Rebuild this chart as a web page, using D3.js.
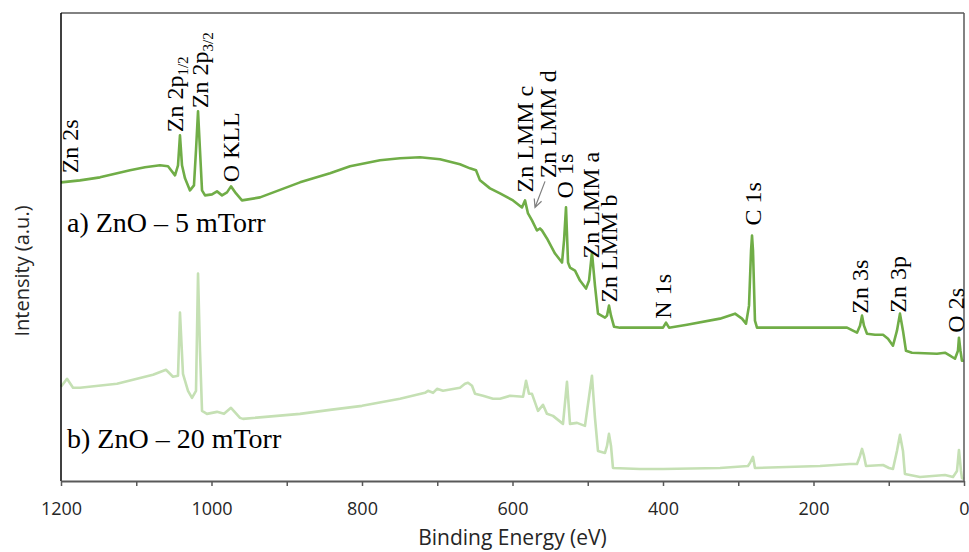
<!DOCTYPE html>
<html>
<head>
<meta charset="utf-8">
<script src="https://cdn.jsdelivr.net/npm/d3@7"></script>
<style>
  body { margin: 0; background: #ffffff; }
  svg { display: block; }
</style>
</head>
<body>
<svg id="chart" width="969" height="552"></svg>
<script>
// Binding energy axis (eV), drawn high to low as usual for XPS
const energyDomain = [1200, 0];
const majorTicks = [1200, 1000, 800, 600, 400, 200, 0];
const minorTicks = [1100, 900, 700, 500, 300, 100];
const intensityDomain = [0, 467];

// Survey spectrum, ZnO deposited at 5 mTorr: [binding energy eV, intensity a.u.]
const spectrum5mTorr = [
  [1200, 298], [1174.8, 300], [1148.2, 303], [1108.3, 310], [1088.4, 313],
  [1068.4, 315], [1057.8, 314], [1048.5, 305], [1044.5, 315], [1041.9, 345],
  [1039.2, 315], [1035.2, 302], [1028.6, 290], [1023.3, 295], [1020.6, 330],
  [1017.9, 369], [1015.3, 330], [1012.6, 290], [1008.6, 285], [999.3, 286],
  [992.7, 289], [986.0, 285], [979.4, 288], [974.1, 294], [967.4, 287],
  [959.5, 280], [935.5, 283], [882.4, 298], [842.5, 307], [815.9, 314],
  [776.1, 320], [749.5, 322], [722.9, 323], [696.3, 321], [669.8, 316],
  [656.5, 312], [648.5, 310], [643.2, 300], [629.9, 292], [616.6, 287],
  [599.3, 280], [587.4, 273], [583.4, 280], [579.4, 267], [574.1, 260],
  [567.5, 250], [563.5, 252], [560.8, 250], [554.2, 242], [543.5, 227],
  [534.2, 218], [531.5, 240], [528.9, 273], [526.2, 218], [523.6, 213],
  [516.9, 210], [510.3, 200], [502.3, 192], [498.3, 200], [494.4, 228],
  [490.4, 195], [486.4, 167], [477.1, 163], [474.4, 165], [471.8, 175],
  [469.1, 165], [465.1, 154], [457.1, 153], [400.0, 153], [396.0, 158],
  [392.0, 153], [368.1, 156], [324.3, 162], [304.3, 167], [295.0, 162],
  [289.7, 157], [285.7, 175], [283.0, 230], [281.7, 245], [280.4, 230],
  [277.8, 160], [275.1, 153], [191.4, 153], [155.5, 153], [142.2, 148],
  [138.2, 155], [135.5, 165], [132.9, 155], [128.9, 147], [118.3, 146],
  [107.6, 146], [101.0, 142], [94.4, 135], [89.1, 150], [85.1, 167],
  [81.1, 150], [77.1, 130], [69.1, 128], [35.9, 127], [25.3, 128],
  [18.6, 125], [12.0, 122], [8.0, 130], [6.7, 143], [4.7, 130],
  [2.7, 120], [0, 120]
];

// Survey spectrum, ZnO deposited at 20 mTorr: [binding energy eV, intensity a.u.]
const spectrum20mTorr = [
  [1200, 94], [1192, 102], [1184, 93], [1174.8, 93], [1125.6, 97],
  [1077.7, 106], [1060.5, 111], [1051.2, 104], [1044.5, 105], [1041.9, 168],
  [1037.9, 107], [1031.2, 90], [1025.9, 83], [1020.6, 90], [1017.9, 207],
  [1015.3, 130], [1012.6, 70], [1006.0, 67], [992.7, 69], [983.4, 67],
  [974.1, 73], [962.1, 63], [958.1, 62], [882.4, 67], [842.5, 71],
  [800, 75], [749.5, 82], [716.3, 88], [712.3, 90], [705.6, 88],
  [700.3, 92], [692.4, 90], [669.8, 93], [663.1, 97], [659.1, 98],
  [653.8, 95], [649.8, 87], [639.2, 85], [625.9, 82], [616.6, 82],
  [603.3, 85], [586.0, 84], [582.0, 100], [578.1, 87], [574.1, 87],
  [566.1, 70], [559.5, 76], [554.2, 67], [546.2, 65], [532.9, 57],
  [527.6, 99], [523.6, 57], [514.3, 58], [503.7, 55], [494.4, 105],
  [490.4, 63], [486.4, 30], [477.1, 28], [474.4, 35], [471.8, 47],
  [469.1, 35], [466.5, 13], [430.6, 12], [400, 12], [324.3, 13],
  [287.1, 15], [284.4, 18], [280.4, 24], [277.8, 13], [191.4, 15],
  [151.5, 17], [142.2, 17], [138.2, 25], [135.5, 32], [132.9, 25],
  [130.2, 15], [107.6, 16], [99.7, 13], [94.4, 12], [89.1, 30],
  [85.1, 46], [81.1, 30], [78.5, 7], [58.5, 4], [25.3, 6],
  [14.6, 4], [9.3, 10], [6.7, 31], [4.0, 10], [2.7, 3], [0, 2]
];

// Peak assignments: label text, subscript, and the [energy, intensity] at the foot of the label
const peakLabels = [
  { text: "Zn 2s", sub: "", at: [1177, 307] },
  { text: "Zn 2p", sub: "1/2", at: [1038, 348] },
  { text: "Zn 2p", sub: "3/2", at: [1004, 372] },
  { text: "O KLL", sub: "", at: [963.5, 298] },
  { text: "Zn LMM c", sub: "", at: [572.5, 288] },
  { text: "Zn LMM d", sub: "", at: [542.5, 302] },
  { text: "O 1s", sub: "", at: [519.5, 282] },
  { text: "Zn LMM a", sub: "", at: [484.5, 222] },
  { text: "Zn LMM b", sub: "", at: [460.5, 178] },
  { text: "N 1s", sub: "", at: [389, 162] },
  { text: "C 1s", sub: "", at: [269.5, 255] },
  { text: "Zn 3s", sub: "", at: [127.5, 167] },
  { text: "Zn 3p", sub: "", at: [77, 168] },
  { text: "O 2s", sub: "", at: [0.5, 148] }
];

// Pointer from the "Zn LMM d" label down to its peak
const pointerArrow = { from: [556.8, 299], to: [570.1, 273] };

const sampleNames = [
  { text: "a) ZnO \u2013 5 mTorr", at: [1192, 248] },
  { text: "b) ZnO \u2013 20 mTorr", at: [1192, 33] }
];

const seriesColors = ["#70ad47", "#c5e0b4"];

const svg = d3.select("#chart");
const margin = { left: 61, right: 5, top: 13, bottom: 71 };
const W = +svg.attr("width"), H = +svg.attr("height");

const x = d3.scaleLinear().domain(energyDomain).range([margin.left, W - margin.right]);
const y = d3.scaleLinear().domain(intensityDomain).range([H - margin.bottom, margin.top]);

const line = d3.line()
  .x(d => x(d[0]))
  .y(d => y(d[1]));

// Spectra (lighter trace underneath)
[[spectrum20mTorr, seriesColors[1]], [spectrum5mTorr, seriesColors[0]]].forEach(([s, c]) => {
  svg.append("path")
    .datum(s)
    .attr("fill", "none")
    .attr("stroke", c)
    .attr("stroke-width", 2.6)
    .attr("stroke-linejoin", "round")
    .attr("d", line);
});

// Plot frame
const x0 = x(energyDomain[0]), x1 = x(energyDomain[1]);
const yTop = y(intensityDomain[1]), yBot = y(intensityDomain[0]);
svg.append("line").attr("x1", x0).attr("x2", x1).attr("y1", yTop).attr("y2", yTop)
  .attr("stroke", "#595959").attr("stroke-width", 1.5);
svg.append("line").attr("x1", x1).attr("x2", x1).attr("y1", yTop).attr("y2", yBot)
  .attr("stroke", "#595959").attr("stroke-width", 1.5);
svg.append("line").attr("x1", x0).attr("x2", x0).attr("y1", yTop).attr("y2", yBot)
  .attr("stroke", "#000000").attr("stroke-width", 1.5);

// Bottom axis with major labels and unlabeled minor ticks
const xAxis = d3.axisBottom(x)
  .tickValues(majorTicks.concat(minorTicks))
  .tickSize(5)
  .tickSizeOuter(0)
  .tickFormat(d => majorTicks.includes(d) ? d : "");
const gx = svg.append("g")
  .attr("transform", `translate(0,${yBot})`)
  .call(xAxis);
gx.select(".domain").attr("stroke", "#595959").attr("stroke-width", 1.8);
gx.selectAll(".tick line").attr("stroke", "#595959").attr("stroke-width", 1.5);
gx.selectAll(".tick text")
  .attr("y", 34).attr("dy", 0)
  .attr("fill", "#262626")
  .style("font-family", "'Open Sans', sans-serif")
  .style("font-size", "18px");

// Axis titles
svg.append("text")
  .attr("x", (x0 + x1) / 2).attr("y", 545)
  .attr("text-anchor", "middle")
  .attr("fill", "#262626")
  .style("font-family", "'Open Sans', sans-serif")
  .style("font-size", "21px")
  .text("Binding Energy (eV)");

svg.append("text")
  .attr("transform", "translate(29,271) rotate(-90)")
  .attr("text-anchor", "middle")
  .attr("fill", "#262626")
  .style("font-family", "'Open Sans', sans-serif")
  .style("font-size", "20px")
  .text("Intensity (a.u.)");

// Sample names
svg.selectAll(".sample")
  .data(sampleNames)
  .join("text")
  .attr("class", "sample")
  .attr("x", d => x(d.at[0]))
  .attr("y", d => y(d.at[1]))
  .attr("fill", "#000")
  .style("font-family", "'Liberation Serif', 'Times New Roman', serif")
  .style("font-size", "28px")
  .text(d => d.text);

// Rotated peak labels
const labels = svg.selectAll(".peak")
  .data(peakLabels)
  .join("text")
  .attr("class", "peak")
  .attr("transform", d => `translate(${x(d.at[0])},${y(d.at[1])}) rotate(-90)`)
  .attr("fill", "#000")
  .style("font-family", "'Liberation Serif', 'Times New Roman', serif")
  .style("font-size", "24px");
labels.append("tspan").text(d => d.text);
labels.filter(d => d.sub)
  .append("tspan")
  .attr("dy", 5)
  .style("font-size", "15px")
  .text(d => d.sub);

// Pointer arrow
const ax1 = x(pointerArrow.from[0]), ay1 = y(pointerArrow.from[1]);
const ax2 = x(pointerArrow.to[0]), ay2 = y(pointerArrow.to[1]);
const ang = Math.atan2(ay2 - ay1, ax2 - ax1);
const head = 9, spread = 0.45;
svg.append("path")
  .attr("d",
    `M${ax1},${ay1}L${ax2},${ay2}` +
    `M${ax2 - head * Math.cos(ang - spread)},${ay2 - head * Math.sin(ang - spread)}` +
    `L${ax2},${ay2}` +
    `L${ax2 - head * Math.cos(ang + spread)},${ay2 - head * Math.sin(ang + spread)}`)
  .attr("fill", "none")
  .attr("stroke", "#7f7f7f")
  .attr("stroke-width", 1.2);
</script>
</body>
</html>
